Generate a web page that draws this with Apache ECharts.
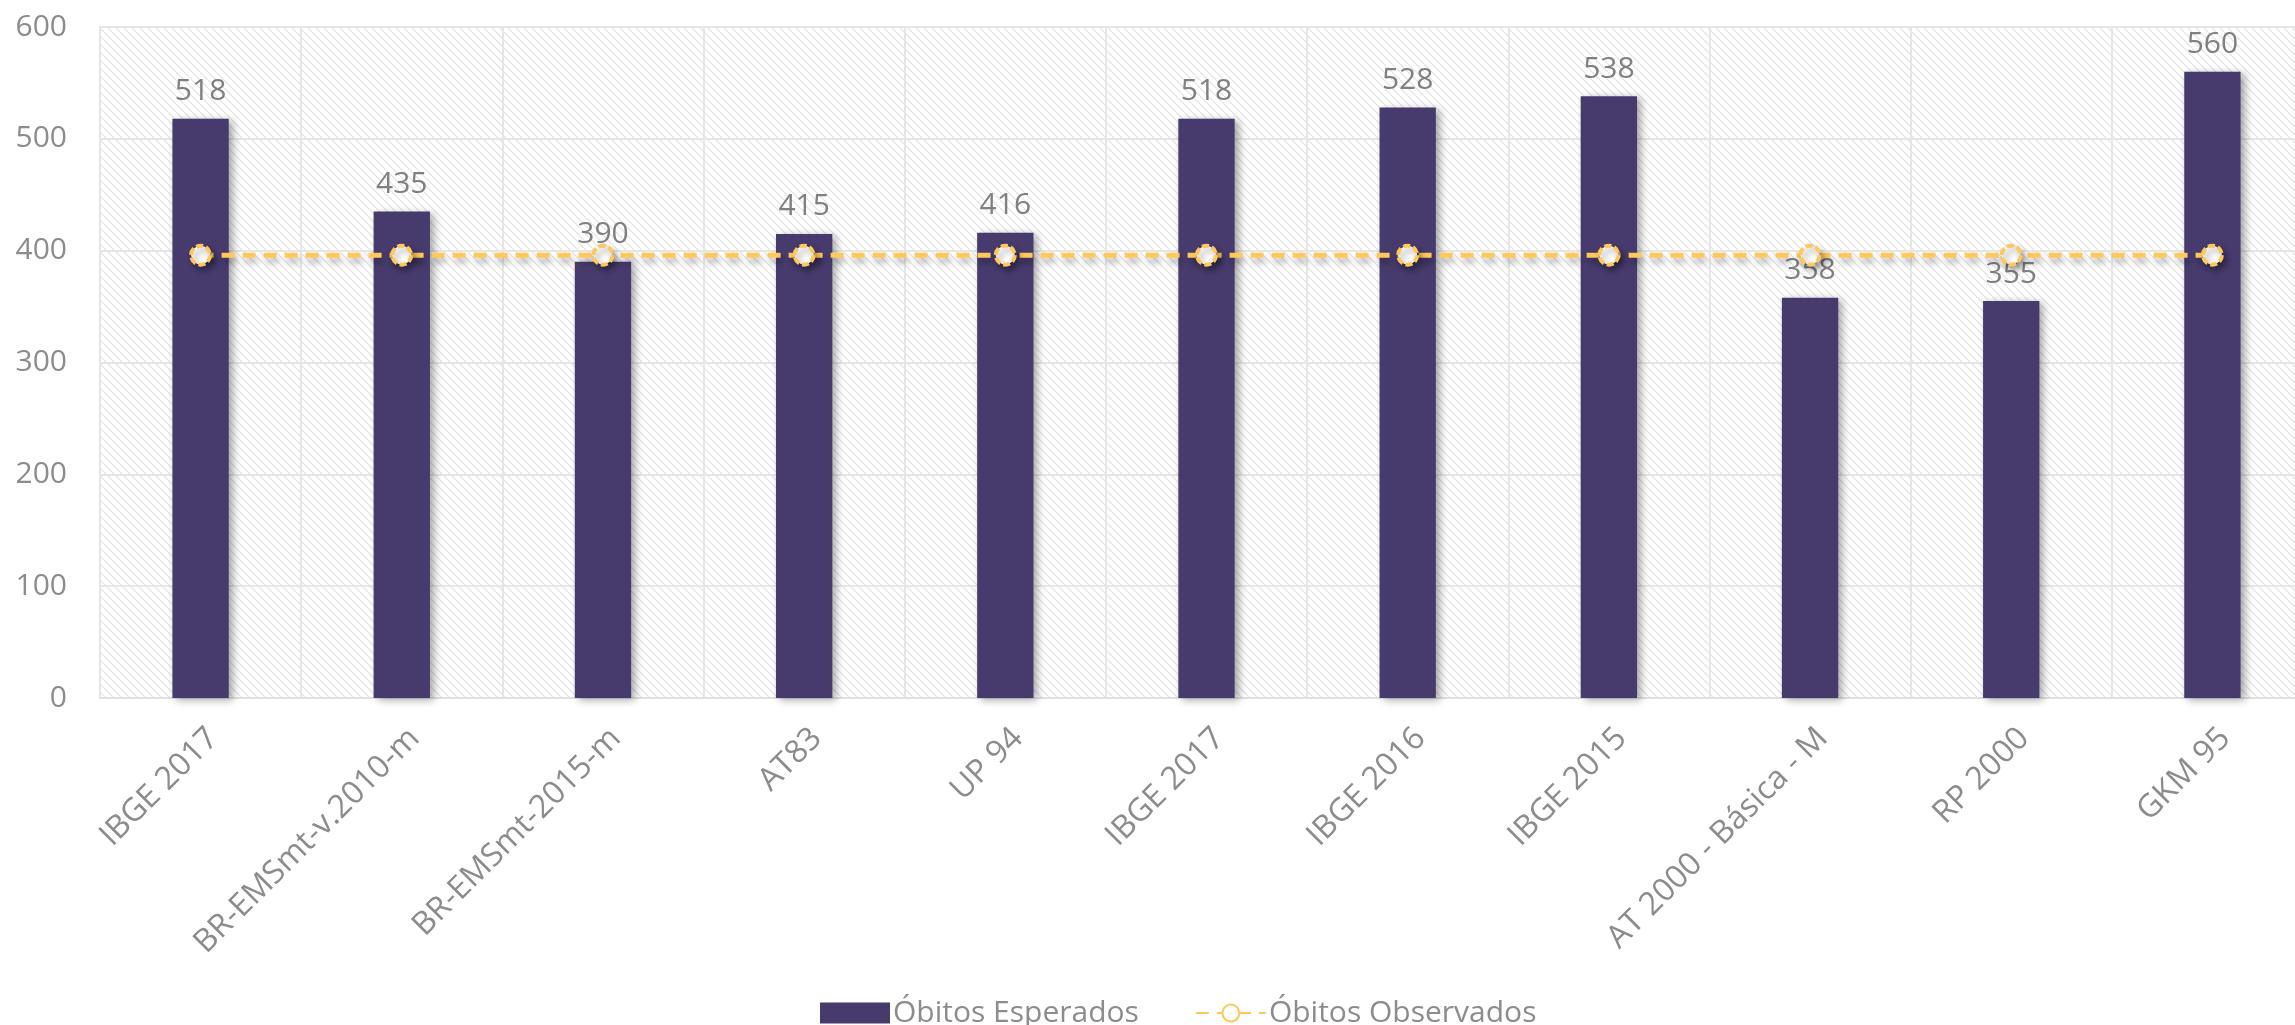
<!DOCTYPE html>
<html>
<head>
<meta charset="utf-8">
<script src="https://cdn.jsdelivr.net/npm/echarts@6/dist/echarts.min.js"></script>
<style>
html,body{margin:0;padding:0;background:#fff;overflow:hidden;}
#chart{width:2313px;height:1025px;}
</style>
</head>
<body>
<div id="chart"></div>
<script>
var categories = ["IBGE 2017","BR-EMSmt-v.2010-m","BR-EMSmt-2015-m","AT83","UP 94","IBGE 2017","IBGE 2016","IBGE 2015","AT 2000 - Básica - M","RP 2000","GKM 95"];
var esperados = [518,435,390,415,416,518,528,538,358,355,560];
var observados = [396,396,396,396,396,396,396,396,396,396,396];
var yTicks = [0,100,200,300,400,500,600];

function hatch(){
  var s = 8;
  var c = document.createElement('canvas');
  c.width = s; c.height = s;
  var g = c.getContext('2d');
  g.fillStyle = '#ffffff';
  g.fillRect(0,0,s,s);
  g.strokeStyle = '#e6e6e6';
  g.lineWidth = 1.3;
  [-s,0,s].forEach(function(k){
    g.beginPath(); g.moveTo(k,0); g.lineTo(k+s,s); g.stroke();
  });
  return c;
}

var chart = echarts.init(document.getElementById('chart'), null, {renderer:'canvas'});
var font = '"Open Sans", sans-serif';
var option = {
  backgroundColor: '#ffffff',
  animation: false,
  textStyle: {fontFamily: font},
  grid: {
    left: 100, top: 27, right: 0, bottom: 327,
    show: true,
    backgroundColor: {image: hatch(), repeat: 'repeat'},
    borderColor: '#e4e4e4', borderWidth: 2
  },
  legend: {
    left: 815, top: 993,
    itemWidth: 70, itemHeight: 21, itemGap: 56,
    textStyle: {fontSize: 30, color: '#8c8c8c', fontFamily: font, padding: [0,0,0,-2]},
    data: [
      {name: 'Óbitos Esperados', icon: 'rect'},
      {name: 'Óbitos Observados'}
    ]
  },
  xAxis: {
    type: 'category',
    data: categories,
    boundaryGap: true,
    axisLine: {show: true, lineStyle: {color: '#e0e0e0', width: 2}},
    axisTick: {show: false},
    splitLine: {show: true, lineStyle: {color: '#e6e6e6', width: 2}},
    axisLabel: {
      rotate: 45, interval: 0, margin: 48,
      fontSize: 32, color: '#8c8c8c', fontFamily: font,
      padding: [0,-18,0,0]
    }
  },
  yAxis: {
    type: 'value',
    min: yTicks[0], max: yTicks[yTicks.length-1], interval: 100,
    axisLine: {show: false},
    axisTick: {show: false},
    splitLine: {show: true, lineStyle: {color: '#e6e6e6', width: 2}},
    axisLabel: {margin: 33, fontSize: 30, color: '#8c8c8c', fontFamily: font}
  },
  series: [
    {
      name: 'Óbitos Esperados',
      type: 'bar',
      data: esperados,
      barWidth: '28%',
      itemStyle: {
        color: '#463B6C',
        shadowColor: 'rgba(0,0,0,0.35)', shadowBlur: 8, shadowOffsetX: 4, shadowOffsetY: 2
      },
      label: {
        show: true, position: 'top', distance: 12,
        fontSize: 30, color: '#808080', fontFamily: font
      }
    },
    {
      name: 'Óbitos Observados',
      type: 'line',
      data: observados,
      symbol: 'circle',
      symbolSize: 19,
      lineStyle: {
        color: '#FFC85A', width: 5, type: [13,8],
        shadowColor: 'rgba(0,0,0,0.3)', shadowBlur: 6, shadowOffsetY: 5, shadowOffsetX: 2
      },
      itemStyle: {
        color: '#ffffff', borderColor: '#FFC85A', borderWidth: 4, borderType: [7,3],
        shadowColor: 'rgba(0,0,0,0.35)', shadowBlur: 6, shadowOffsetY: 4, shadowOffsetX: 3
      },
      z: 3
    }
  ]
};
chart.setOption(option);
</script>
</body>
</html>
